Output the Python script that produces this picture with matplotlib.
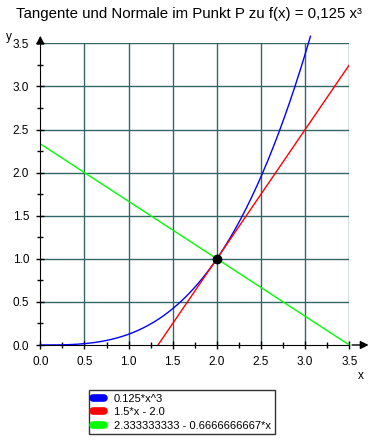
import numpy as np
import matplotlib
matplotlib.use("Agg")
import matplotlib.pyplot as plt

plt.rcParams['font.family'] = ['Liberation Sans', 'DejaVu Sans']

# data
x_max = 3.5
px, py = 2.0, 1.0
labels = ["0.125*x^3", "1.5*x - 2.0", "2.333333333 - 0.6666666667*x"]
colors = ["#0000ff", "#ff0000", "#00ff00"]
xticks = [0.0, 0.5, 1.0, 1.5, 2.0, 2.5, 3.0, 3.5]
yticks = [0.0, 0.5, 1.0, 1.5, 2.0, 2.5, 3.0, 3.5]

fig = plt.figure(figsize=(3.77, 4.42), dpi=100)
ax = fig.add_axes([40.3/377, 1-345/442, (349.3-40.3)/377, (345-43.3)/442])

grid_c = "#336666"
for t in xticks[1:]:
    ax.axvline(t, color=grid_c, lw=1, zorder=1)
for t in yticks[1:]:
    ax.axhline(t, color=grid_c, lw=1, zorder=1)

x1 = np.linspace(0, 3.06, 300)
ax.plot(x1, 0.125*x1**3, color=colors[0], lw=1, label=labels[0], clip_on=False, zorder=3)
x2 = np.linspace(4/3, 3.5, 50)
ax.plot(x2, 1.5*x2 - 2.0, color=colors[1], lw=1, label=labels[1], zorder=3)
x3 = np.linspace(0, 3.5, 50)
ax.plot(x3, 2.333333333 - 0.6666666667*x3, color=colors[2], lw=1, label=labels[2], zorder=3)
ax.plot([px], [py], 'o', color='black', ms=6, zorder=5)

ax.set_xlim(0, x_max)
ax.set_ylim(0, 3.5)
for s in ["top", "right"]:
    ax.spines[s].set_visible(False)
ax.spines["left"].set_zorder(4)
ax.spines["bottom"].set_zorder(4)
ax.set_xticks(xticks)
ax.set_yticks(yticks)
ax.set_xticklabels([f"{t:.1f}" for t in xticks])
ax.set_yticklabels([f"{t:.1f}" for t in yticks])
ax.set_xticks(np.arange(0.25, 3.5, 0.5), minor=True)
ax.set_yticks(np.arange(0.25, 3.5, 0.5), minor=True)
ax.tick_params(which='both', direction='inout', length=6, width=1, labelsize=8.5, pad=5)
ax.tick_params(which='minor', length=5)

# axis arrows
ax.annotate("", xy=(3.75, 0), xytext=(3.5, 0), xycoords='data',
            arrowprops=dict(arrowstyle='-|>', color='black', lw=1, mutation_scale=12), annotation_clip=False)
ax.annotate("", xy=(0, 3.62), xytext=(0, 3.5), xycoords='data',
            arrowprops=dict(arrowstyle='-|>', color='black', lw=1, mutation_scale=12), annotation_clip=False)
fig.text(361/377, 1-376/442, "x", fontsize=8.5, ha='center', va='center')
fig.text(9/377, 1-37/442, "y", fontsize=8.5, ha='center', va='center')

fig.text(0.5, 1-14/442, "Tangente und Normale im Punkt P zu f(x) = 0,125 x\u00b3",
         fontsize=10.8, ha='center', va='center')

leg = ax.legend(loc='upper left', bbox_to_anchor=(89/377, 1-390/442), bbox_transform=fig.transFigure,
                fontsize=8, frameon=True, fancybox=False, borderaxespad=0,
                handlelength=1.0, handletextpad=0.9, labelspacing=0.3, borderpad=0.35)
leg.get_frame().set_edgecolor('black')
leg.get_frame().set_linewidth(1)
for h in leg.legend_handles:
    h.set_linewidth(5.5)
    h.set_solid_capstyle('round')

fig.savefig("out.png", dpi=100)
